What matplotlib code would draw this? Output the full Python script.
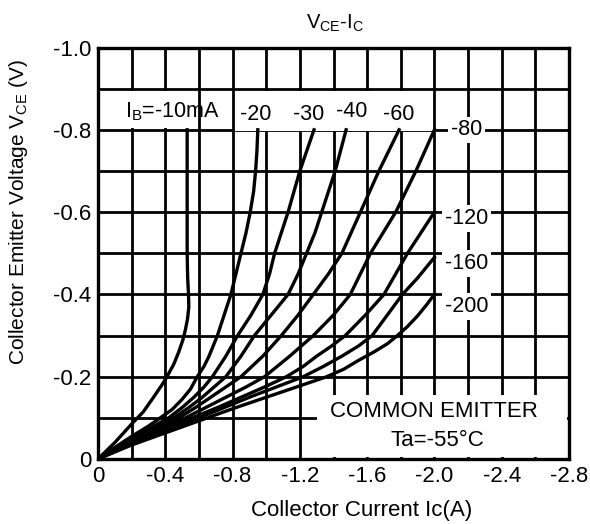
import numpy as np
import matplotlib
matplotlib.use("Agg")
import matplotlib.pyplot as plt
from matplotlib.patches import Rectangle

plt.rcParams['font.family'] = ['Liberation Sans', 'DejaVu Sans']
plt.rcParams['mathtext.fontset'] = 'custom'
plt.rcParams['mathtext.rm'] = 'Liberation Sans'

# collector current |Ic| (A) and collector-emitter voltage |Vce| (V) per base current
ib_labels = ["-10", "-20", "-30", "-40", "-60", "-80", "-120", "-160", "-200"]

ic_10 = [0, 0.1, 0.2, 0.27, 0.33, 0.38, 0.41, 0.45, 0.48, 0.505, 0.52, 0.532, 0.54, 0.538, 0.533, 0.53, 0.53]
vce_10 = [0, 0.04, 0.085, 0.115, 0.15, 0.18, 0.2, 0.23, 0.26, 0.29, 0.315, 0.34, 0.37, 0.4, 0.44, 0.5, 0.8]

ic_20 = [0, 0.1, 0.2, 0.3, 0.44, 0.5, 0.55, 0.59, 0.63, 0.66, 0.71, 0.75, 0.79, 0.82, 0.85, 0.88, 0.905, 0.925, 0.937, 0.945, 0.95]
vce_20 = [0, 0.028, 0.055, 0.08, 0.12, 0.145, 0.17, 0.2, 0.225, 0.25, 0.3, 0.35, 0.4, 0.45, 0.5, 0.55, 0.6, 0.65, 0.7, 0.75, 0.8]

ic_30 = [0, 0.2, 0.42, 0.5, 0.57, 0.63, 0.68, 0.76, 0.83, 0.91, 0.98, 1.02, 1.05, 1.09, 1.13, 1.2, 1.284]
vce_30 = [0, 0.05, 0.1, 0.125, 0.15, 0.175, 0.2, 0.25, 0.3, 0.35, 0.4, 0.45, 0.5, 0.55, 0.6, 0.7, 0.8]

ic_40 = [0, 0.2, 0.45, 0.54, 0.62, 0.69, 0.76, 0.85, 0.93, 1.03, 1.13, 1.19, 1.24, 1.29, 1.33, 1.41, 1.475]
vce_40 = [0, 0.047, 0.1, 0.125, 0.15, 0.175, 0.2, 0.25, 0.3, 0.35, 0.4, 0.45, 0.5, 0.55, 0.6, 0.7, 0.8]

ic_60 = [0, 0.2, 0.48, 0.58, 0.67, 0.76, 0.85, 0.98, 1.09, 1.19, 1.28, 1.37, 1.45, 1.56, 1.67, 1.79]
vce_60 = [0, 0.044, 0.1, 0.125, 0.15, 0.175, 0.2, 0.25, 0.3, 0.35, 0.4, 0.45, 0.5, 0.6, 0.7, 0.8]

ic_80 = [0, 0.2, 0.52, 0.64, 0.76, 0.88, 0.99, 1.14, 1.28, 1.4, 1.5, 1.56, 1.62, 1.77, 1.89, 2.0]
vce_80 = [0, 0.042, 0.1, 0.125, 0.15, 0.175, 0.2, 0.25, 0.3, 0.35, 0.4, 0.45, 0.5, 0.6, 0.7, 0.8]

ic_120 = [0, 0.2, 0.56, 0.71, 0.85, 0.99, 1.12, 1.22, 1.3, 1.39, 1.47, 1.59, 1.7, 1.77, 1.84, 1.92, 2.0]
vce_120 = [0, 0.04, 0.1, 0.125, 0.15, 0.175, 0.2, 0.225, 0.25, 0.275, 0.3, 0.35, 0.4, 0.45, 0.5, 0.55, 0.6]

ic_160 = [0, 0.2, 0.6, 0.75, 0.9, 1.06, 1.22, 1.34, 1.45, 1.55, 1.63, 1.72, 1.81, 1.9, 2.0]
vce_160 = [0, 0.037, 0.1, 0.125, 0.15, 0.175, 0.2, 0.225, 0.25, 0.275, 0.3, 0.35, 0.4, 0.44, 0.49]

ic_200 = [0, 0.2, 0.65, 0.82, 1.0, 1.18, 1.36, 1.46, 1.55, 1.64, 1.72, 1.78, 1.84, 1.9, 1.95, 2.0]
vce_200 = [0, 0.034, 0.1, 0.125, 0.15, 0.175, 0.2, 0.218, 0.24, 0.26, 0.28, 0.3, 0.322, 0.348, 0.373, 0.4]

curves = [(ic_10, vce_10), (ic_20, vce_20), (ic_30, vce_30), (ic_40, vce_40),
          (ic_60, vce_60), (ic_80, vce_80), (ic_120, vce_120),
          (ic_160, vce_160), (ic_200, vce_200)]

x_ticks = np.round(np.arange(0, 2.81, 0.2), 1)
x_ticklabels = ["0", "", "-0.4", "", "-0.8", "", "-1.2", "", "-1.6", "", "-2.0", "", "-2.4", "", "-2.8"]
y_ticks = np.round(np.arange(0, 1.01, 0.1), 1)
y_ticklabels = ["0", "", "-0.2", "", "-0.4", "", "-0.6", "", "-0.8", "", "-1.0"]

fig = plt.figure(figsize=(5.9, 5.24), dpi=100)
ax = fig.add_axes([98 / 590, 65 / 524, 471 / 590, 411.5 / 524])
ax.set_xlim(0, 2.8)
ax.set_ylim(0, 1.0)
ax.set_xticks(x_ticks)
ax.set_xticklabels(x_ticklabels)
ax.set_yticks(y_ticks)
ax.set_yticklabels(y_ticklabels)
ax.tick_params(length=0, labelsize=16, pad=5)
ax.grid(True, color="black", linewidth=2.0)
ax.set_axisbelow(True)
for s in ax.spines.values():
    s.set_linewidth(2.4)

# white label areas that hide the grid
ax.add_patch(Rectangle((0.012, 0.805), 0.578, 0.09, facecolor="white", edgecolor="none", zorder=1))
ax.add_patch(Rectangle((0.812, 0.797), 1.178, 0.098, facecolor="white", edgecolor="none", zorder=1))
ax.add_patch(Rectangle((1.3, 0.006), 1.49, 0.15, facecolor="white", edgecolor="none", zorder=1))

for ic, vce in curves:
    ax.plot(ic, vce, color="black", linewidth=2.4, zorder=3, solid_joinstyle="round")

ax.text(0.44, 0.845, "I$\\mathregular{_B}$=-10mA", fontsize=15.5, ha="center", va="center", zorder=4)
top_pos = [(0.94, 0.836), (1.25, 0.836), (1.51, 0.845), (1.79, 0.836)]
for lab, (x, y) in zip(ib_labels[1:5], top_pos):
    ax.text(x, y, lab, fontsize=15.5, ha="center", va="center", zorder=4)

right_pos = [0.8, 0.585, 0.475, 0.37]
for lab, y in zip(ib_labels[5:], right_pos):
    ax.text(2.19, y, lab, fontsize=15.5, ha="center", va="center", zorder=4,
            bbox=dict(facecolor="white", edgecolor="none", pad=2))

ax.text(2.0, 0.115, "COMMON EMITTER", fontsize=16, ha="center", va="center", zorder=4)
ax.text(2.02, 0.046, "Ta=-55°C", fontsize=16, ha="center", va="center", zorder=4)

ax.set_xlabel("Collector Current Ic(A)", fontsize=16)
ax.xaxis.set_label_coords(0.56, -0.1)
ax.set_ylabel("Collector Emitter Voltage V$\\mathregular{_{CE}}$ (V)", fontsize=15)
ax.yaxis.set_label_coords(-0.145, 0.6)

fig.text(335 / 590, 1 - 23.5 / 524, "V$\\mathregular{_{CE}}$-I$\\mathregular{_C}$",
         fontsize=14.5, ha="center", va="center")

fig.savefig("out.png", dpi=100)
